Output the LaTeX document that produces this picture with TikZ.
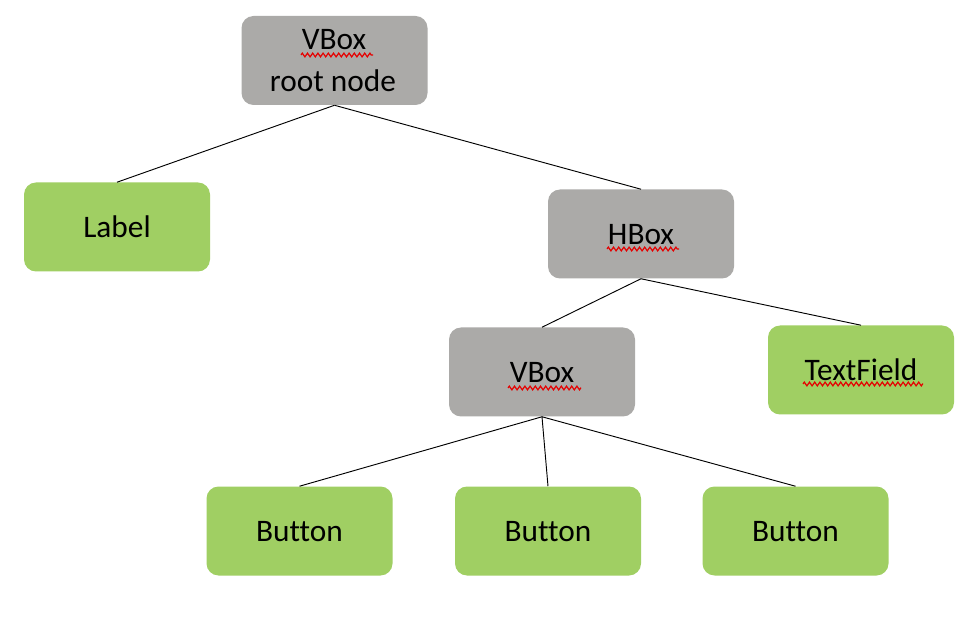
\documentclass[tikz,border=0pt]{standalone}
\usepackage{fontspec}
\setmainfont[Ligatures={NoCommon}]{Carlito}
\usetikzlibrary{decorations.pathmorphing}
\definecolor{boxgray}{RGB}{171,170,168}
\definecolor{boxgreen}{RGB}{160,207,99}
\begin{document}
\begin{tikzpicture}[x=0.75pt,y=-0.75pt,
  basebox/.style={rectangle,rounded corners=9pt,draw=none,inner sep=0pt,
    minimum width=139.5pt,minimum height=66.75pt,
    font=\fontsize{23.5pt}{31.5pt}\selectfont,text height=15.1pt,text depth=0pt},
  graybox/.style={basebox,fill=boxgray},
  greenbox/.style={basebox,fill=boxgreen},
  txt/.style={inner sep=0pt,font=\fontsize{23.5pt}{31.5pt}\selectfont,anchor=base},
  conn/.style={draw=black,line width=0.7pt},
  spell/.style={draw=red!90!black,line width=0.9pt,decorate,
    decoration={zigzag,segment length=3.9pt,amplitude=1.4pt}}]
\useasboundingbox (0,0) rectangle (964,634);
\fill[white] (0,0) rectangle (964,634);
% boxes
\node[graybox] (root) at (334.5,60.5) {};
\node[txt] (rootA) at (334,50) {VBox};
\node[txt] (rootB) at (333,92) {root node};
\node[greenbox] (label) at (117,227) {Label};
\node[graybox] (hbox) at (641,234) {HBox};
\node[graybox] (vbox) at (542,372) {VBox};
\node[greenbox] (tf) at (861,370) {TextField};
\node[greenbox] (b1) at (299.5,531) {Button};
\node[greenbox] (b2) at (548,531) {Button};
\node[greenbox] (b3) at (795.5,531) {Button};
% connectors
\draw[conn] (root.south) -- (label.north);
\draw[conn] (root.south) -- (hbox.north);
\draw[conn] (hbox.south) -- (vbox.north);
\draw[conn] (hbox.south) -- (tf.north);
\draw[conn] (vbox.south) -- (b1.north);
\draw[conn] (vbox.south) -- (b2.north);
\draw[conn] (vbox.south) -- (b3.north);
% spell-check underlines
\draw[spell] (301,55) -- (373,55);
\draw[spell] (607,249) -- (679,249);
\draw[spell] (508,388) -- (581,388);
\draw[spell] (803,384) -- (923,384);
\end{tikzpicture}
\end{document}
